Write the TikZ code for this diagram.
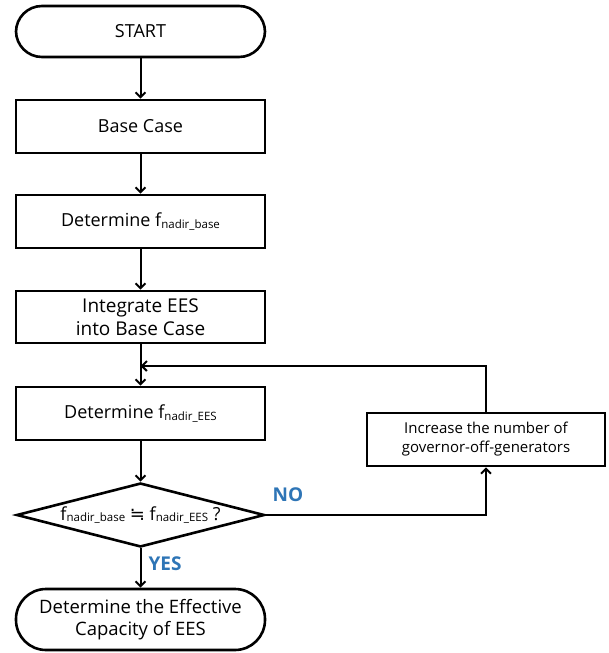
\documentclass[tikz,border=0pt]{standalone}
\usepackage{fontspec}
\setmainfont{Open Sans}
\newfontfamily\symfont{DejaVu Sans}
\usetikzlibrary{shapes.geometric,arrows.meta}
\definecolor{yesno}{HTML}{2E75B6}
\newcommand{\fsub}[1]{f\raisebox{-1.5pt}{\fontsize{11.5}{12}\selectfont #1}}
\tikzset{
  box/.style={draw,line width=2.6pt,minimum width=249pt,minimum height=53pt,inner sep=0pt,align=center,font=\fontsize{18}{22}\selectfont},
  term/.style={box,rounded corners=26pt},
  dec/.style={draw,line width=2.6pt,shape=diamond,aspect=3.9,minimum width=248pt,minimum height=64pt,inner sep=0pt,font=\fontsize{18}{22}\selectfont},
  arr/.style={line width=2pt,-{Straight Barb[length=5pt,width=10pt,line width=2pt]}},
  lab/.style={text=yesno,font=\fontsize{19}{21}\selectfont\bfseries}
}
\begin{document}
\begin{tikzpicture}[x=1pt,y=1pt]
\useasboundingbox (0,0) rectangle (608,-653);
\node[term,minimum height=51pt] (start) at (140.5,-31.5) {START};
\node[box] (base) at (140.5,-126.5) {Base Case};
\node[box] (detb) at (140.5,-221.5) {Determine \fsub{nadir\_base}};
\node[box,minimum height=52pt,font=\fontsize{19}{23}\selectfont] (integ) at (140.5,-317) {Integrate EES\\into Base Case};
\node[box] (dete) at (140.5,-413.5) {Determine \fsub{nadir\_EES}};
\node[dec] (dec) at (140.5,-515) {\fsub{nadir\_base} {\symfont ≒} \fsub{nadir\_EES} ?};
\node[term,minimum height=61pt,rounded corners=30pt,font=\fontsize{18.5}{22}\selectfont] (end) at (140.5,-619.5) {Determine the Effective\\Capacity of EES};
\node[box,minimum width=238pt,font=\fontsize{15}{19}\selectfont] (inc) at (486,-439.5) {Increase the number of\\governor-off-generators};
\coordinate (fb) at (140.5,-366);
\draw[arr] (start) -- (base);
\draw[arr] (base) -- (detb);
\draw[arr] (detb) -- (integ);
\draw[arr] (integ) -- (dete);
\draw[arr] (dete) -- (dec);
\draw[arr] (dec) -- (end);
\draw[arr] (dec.east) -| (inc.south);
\draw[arr] (inc.north) |- (fb);
\node[lab] (no) at (288,-495) {NO};
\node[lab] (yes) at (165,-564) {YES};
\end{tikzpicture}
\end{document}
